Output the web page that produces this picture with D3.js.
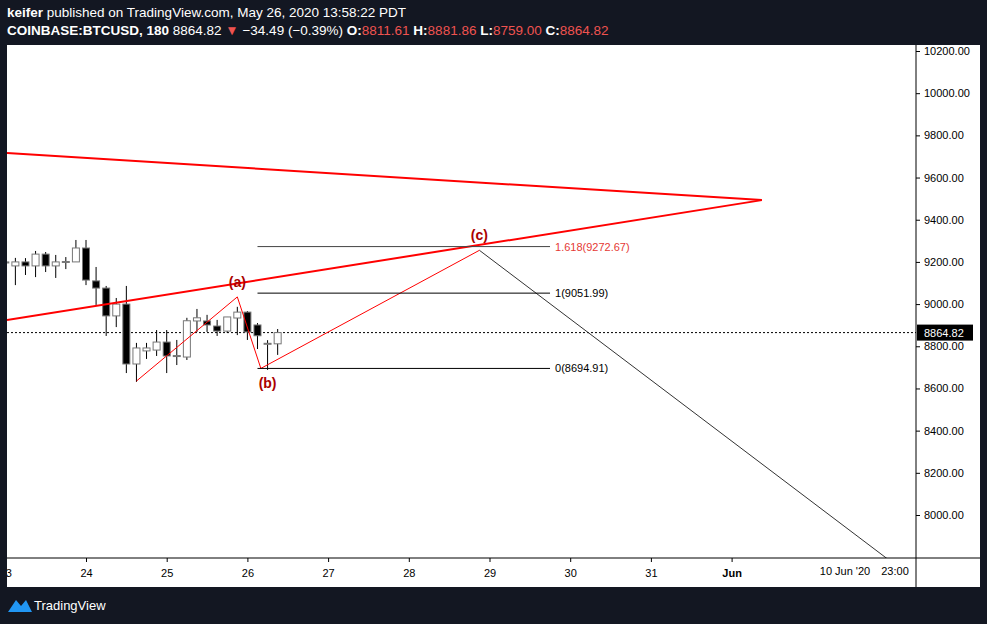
<!DOCTYPE html>
<html><head><meta charset="utf-8">
<script src="https://cdn.jsdelivr.net/npm/d3@7"></script>
<style>body{margin:0;background:#131722;}svg{display:block;font-family:"Liberation Sans",Arial,sans-serif;}</style>
</head><body><svg id="c" width="987" height="624"></svg>
<script>
// ---- data ----
// candles: time offset (hours from May 24 00:00), open, high, low, close
const candleHours = [-24,-21,-18,-15,-12,-9,-6,-3,0,3,6,9,12,15,18,21,24,27,30,33,36,39,42,45,48,51,54,57];
const opens  = [9195,9181,9200,9181,9237,9181,9200,9200,9266,9110,9076,8944,9000,8716,8778,8782,8820,8754,8749,8920,8920,8896,8872,8934,8962,8901,8810,8811.61];
const highs  = [9215,9219,9218,9252,9247,9233,9223,9304,9304,9176,9086,9029,9086,8816,8816,8877,8877,8830,8935,8977,8949,8925,8939,8987,8967,8910,8829,8881.86];
const lows   = [9175,9090,9138,9128,9152,9124,9166,9200,9090,8996,8849,8891,8673,8631,8740,8754,8673,8711,8735,8868,8868,8849,8863,8853,8830,8787,8688,8759.00];
const closes = [9200,9200,9181,9237,9181,9200,9202,9266,9114,9076,8944,9000,8716,8792,8792,8820,8754,8756,8921,8935,8901,8872,8939,8962,8868,8850,8814,8864.82];
const lastPrice = 8864.82;
// drawings (hours from May 24, price)
const triangleTop = [[-23.5,9716],[201,9493]];
const triangleBottom = [[-23.5,8925],[201,9493]];
const zigzag = [[15,8635],[45,9034],[52,8695],[117,9255]];
const projection = [[117,9255],[240,7772]];
const fibLevels = [9272.67,9051.99,8694.91];
const fibLabels = ["1.618(9272.67)","1(9051.99)","0(8694.91)"];
const fibStartEnd = [51,138];
const waveLabels = [["(a)",45,9080],["(b)",54,8600],["(c)",117,9306]];
const priceTicks = [8000,8200,8400,8600,8800,9000,9200,9400,9600,9800,10000,10200];
const dayTicks = [-24,0,24,48,72,96,120,144,168,192];
const dayLabels = ["23","24","25","26","27","28","29","30","31","Jun"];

// ---- layout ----
const svg = d3.select("#c");
const L=7, T=45, R=916, B=558, RE=980, BE=587;
const base = new Date(Date.UTC(2020,4,24));
const h2d = h => new Date(base.getTime()+h*3600e3);
const x = d3.scaleUtc().domain([h2d(0), h2d(24)]).range([86, 166.7]);
const y = d3.scaleLinear().domain([8000,10200]).range([515,51]);

svg.append("rect").attr("x",L).attr("y",T).attr("width",RE-L).attr("height",BE-T).attr("fill","#fff");
svg.append("defs").append("clipPath").attr("id","cp").append("rect").attr("x",L).attr("y",T).attr("width",R-L).attr("height",B-T);
const g = svg.append("g").attr("clip-path","url(#cp)");

// header
const hd = svg.append("g").attr("font-size",13.5).attr("fill","#fff");
const t1 = hd.append("text").attr("x",7).attr("y",17);
t1.append("tspan").attr("font-weight","bold").text("keifer");
t1.append("tspan").text(" published on TradingView.com, May 26, 2020 13:58:22 PDT");
const t2 = hd.append("text").attr("x",7).attr("y",35);
t2.append("tspan").attr("font-weight","bold").text("COINBASE:BTCUSD, 180 ");
t2.append("tspan").text(" 8864.82 ");
t2.append("tspan").attr("fill","#ef5350").text("▼");
t2.append("tspan").text(" −34.49 (−0.39%) ");
[["O:","8811.61"],["H:","8881.86"],["L:","8759.00"],["C:","8864.82"]].forEach(([k,v])=>{
  t2.append("tspan").attr("font-weight","bold").text(k);
  t2.append("tspan").attr("fill","#ef5350").text(v+" ");
});

// last price dotted
g.append("line").attr("x1",L).attr("x2",R).attr("y1",y(lastPrice)).attr("y2",y(lastPrice)).attr("stroke","#000").attr("stroke-dasharray","2,2");

// candles
candleHours.forEach((h,i)=>{
  const cx = x(h2d(h)), up = closes[i]>=opens[i];
  g.append("line").attr("x1",cx).attr("x2",cx).attr("y1",y(highs[i])).attr("y2",y(lows[i])).attr("stroke","#000");
  const top=y(Math.max(opens[i],closes[i])), bot=y(Math.min(opens[i],closes[i]));
  g.append("rect").attr("x",cx-3.5).attr("y",top).attr("width",7).attr("height",Math.max(1,bot-top))
   .attr("fill",up?"#fff":"#000").attr("stroke","#777").attr("stroke-width",1);
});

const line = d3.line().x(d=>x(h2d(d[0]))).y(d=>y(d[1]));
g.append("path").attr("d",line(triangleTop)).attr("stroke","#f00").attr("stroke-width",2).attr("fill","none");
g.append("path").attr("d",line(triangleBottom)).attr("stroke","#f00").attr("stroke-width",2).attr("fill","none");
g.append("path").attr("d",line(zigzag)).attr("stroke","#f00").attr("stroke-width",1).attr("fill","none");
g.append("path").attr("d",line(projection)).attr("stroke","#333").attr("stroke-width",1).attr("fill","none");
fibLevels.forEach((v,i)=>{
  g.append("line").attr("x1",x(h2d(fibStartEnd[0]))).attr("x2",x(h2d(fibStartEnd[1]))).attr("y1",y(v)).attr("y2",y(v)).attr("stroke",i==0?"#444":"#000");
  g.append("text").attr("x",x(h2d(fibStartEnd[1]))+5).attr("y",y(v)+4).attr("font-size",11).attr("fill",i==0?"#e53935":"#000").text(fibLabels[i]);
});
waveLabels.forEach(([t,h,v])=>{
  g.append("text").attr("x",x(h2d(h))).attr("y",y(v)).attr("text-anchor","middle").attr("font-size",14).attr("font-weight","bold").attr("fill","#a00").text(t);
});

// axes
svg.append("line").attr("x1",R).attr("x2",R).attr("y1",T).attr("y2",BE).attr("stroke","#000");
svg.append("line").attr("x1",L).attr("x2",RE).attr("y1",B).attr("y2",B).attr("stroke","#000");
const ya = svg.append("g").attr("transform",`translate(${R},0)`)
  .call(d3.axisRight(y).tickValues(priceTicks).tickSize(4).tickFormat(d3.format(".2f")));
ya.select(".domain").remove();
ya.selectAll("text").attr("font-size",11).attr("font-family","Liberation Sans, Arial").attr("x",8);
const xa = svg.append("g").attr("transform",`translate(0,${B})`)
  .call(d3.axisBottom(x).tickValues(dayTicks.map(h2d)).tickSize(4).tickFormat((d,i)=>dayLabels[i]));
xa.select(".domain").remove();
xa.selectAll("text").attr("font-size",11).attr("font-family","Liberation Sans, Arial").attr("dy","1.1em")
  .attr("font-weight",(d,i)=>dayLabels[i]=="Jun"?"bold":"normal");
svg.append("text").attr("x",845).attr("y",575).attr("text-anchor","middle").attr("font-size",11).text("10 Jun '20");
svg.append("text").attr("x",895).attr("y",575).attr("text-anchor","middle").attr("font-size",11).text("23:00");
// last price label
svg.append("rect").attr("x",R+1).attr("y",y(lastPrice)-8).attr("width",56).attr("height",16).attr("fill","#000");
svg.append("text").attr("x",R+8).attr("y",y(lastPrice)+4).attr("font-size",11).attr("fill","#fff").text("8864.82");
svg.append("rect").attr("x",0).attr("y",T).attr("width",L).attr("height",BE-T).attr("fill","#131722");

// footer logo
const f = svg.append("g");
f.append("path").attr("d","M8,612 L16,600 L21,606 L26,600 L32,612 Z").attr("fill","#2196f3");
f.append("text").attr("x",34).attr("y",610).attr("font-size",13).attr("fill","#fff").text("TradingView");
</script></body></html>
